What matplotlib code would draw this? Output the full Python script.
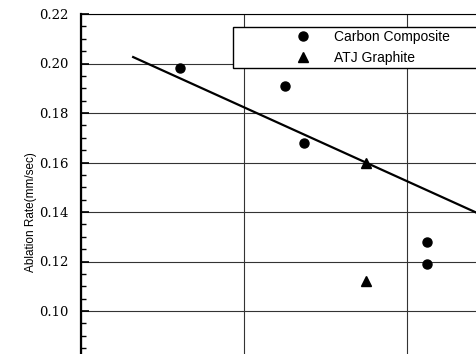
import matplotlib
matplotlib.use("Agg")
import matplotlib.pyplot as plt
from matplotlib.patches import Rectangle
from matplotlib.ticker import MultipleLocator, FormatStrFormatter

# data (x in grid units, no x labels visible)
carbon_x = [0.61, 1.25, 1.37, 2.12, 2.12]
carbon_y = [0.198, 0.191, 0.168, 0.128, 0.119]
atj_x = [1.75, 1.75]
atj_y = [0.160, 0.112]
fit_x = [0.32, 3.0]
fit_y = [0.2026, 0.1226]

labels = ["Carbon Composite", "ATJ Graphite"]
ylabel = "Ablation Rate(mm/sec)"

fig = plt.figure(figsize=(4.77, 3.54), dpi=100)
# axes runs past the right and bottom edges, as in the cropped original
ax = fig.add_axes([81 / 477, -56 / 354, 489 / 477, 396 / 354])

ax.set_xlim(0, 3)
ax.set_ylim(0.06, 0.22)

ax.plot(fit_x, fit_y, color="black", lw=1.6, zorder=3)
h1, = ax.plot(carbon_x, carbon_y, "o", color="black", ms=6.5, ls="none", zorder=4)
h2, = ax.plot(atj_x, atj_y, "^", color="black", ms=7, ls="none", zorder=4)

ax.xaxis.set_major_locator(MultipleLocator(1))
ax.yaxis.set_major_locator(MultipleLocator(0.02))
ax.yaxis.set_minor_locator(MultipleLocator(0.005))
ax.yaxis.set_major_formatter(FormatStrFormatter("%.2f"))
ax.grid(True, which="major", color="0.2", lw=0.8)
ax.set_axisbelow(True)

ax.tick_params(axis="y", which="major", direction="in", length=6, width=1.2, pad=9,
               labelsize=9.5, labelfontfamily="DejaVu Serif")
ax.tick_params(axis="y", which="minor", direction="in", length=3.5, width=1.0)
ax.tick_params(axis="x", which="both", length=0, labelbottom=False)

ax.spines["left"].set_linewidth(1.6)
ax.spines["top"].set_linewidth(0.8)
ax.spines["right"].set_visible(False)
ax.spines["bottom"].set_visible(False)

ax.set_ylabel(ylabel, fontsize=8.5, family="Liberation Sans")
ax.yaxis.set_label_coords(-0.09, 0.5)

# legend box, cut off by the right edge
ax.add_patch(Rectangle((0.93, 0.1982), 2.2, 0.0166, facecolor="white",
                       edgecolor="black", lw=1.0, zorder=5, clip_on=False))
leg = ax.legend([h1, h2], labels, loc="center left", bbox_to_anchor=(1.32, 0.2065),
                bbox_transform=ax.transData, frameon=False, borderpad=0,
                borderaxespad=0, handlelength=1.0, handletextpad=1.7,
                labelspacing=0.45, prop={"family": "Liberation Sans", "size": 10})
leg.set_zorder(6)

fig.savefig("out.png", dpi=100)
